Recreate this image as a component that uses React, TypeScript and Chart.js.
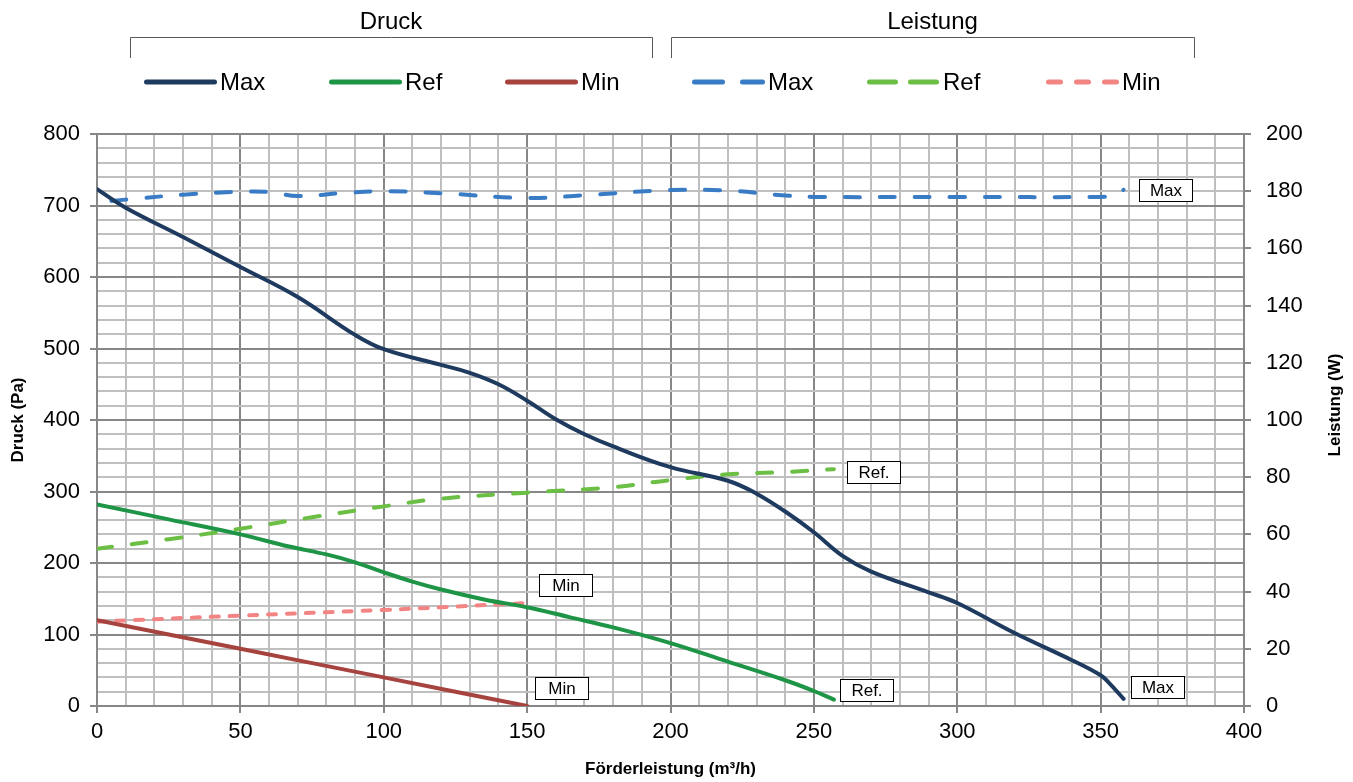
import React, { useEffect, useRef } from 'react';
import { Chart, registerables } from 'chart.js';

Chart.register(...registerables);

// ---- Data ----
// Druck (Pa) vs Förderleistung (m³/h)
const maxDruckX = [0, 10, 30, 50, 70, 90, 100, 120, 130, 140, 150, 160, 170, 180, 200, 220, 230, 240, 250, 260, 270, 290, 300, 320, 340, 350, 353, 358];
const maxDruckY = [723, 697, 656, 614, 572, 519, 499, 477, 466, 450, 427, 401, 380, 363, 334, 315, 297, 272, 243, 210, 188, 159, 144, 102, 64, 43, 32, 10];

const refDruckX = [0, 25, 50, 67, 80, 90, 100, 110, 120, 135, 150, 165, 180, 200, 220, 240, 250, 257];
const refDruckY = [282, 261, 240, 223, 212, 201, 187, 174, 163, 149, 138, 124, 110, 88, 62, 36, 21, 9];

const minDruckX = [0, 50, 100, 150];
const minDruckY = [120, 80, 40, 0];

// Leistung (W) vs Förderleistung (m³/h)
const maxLeistX = [5, 15, 30, 50, 60, 70, 85, 100, 120, 150, 170, 200, 220, 240, 250, 300, 350, 354, 358];
const maxLeistY = [176.6, 177.5, 178.8, 179.8, 179.7, 178.3, 179.3, 180, 179.3, 177.6, 178.6, 180.4, 180.2, 178.5, 178, 178, 178, 178.5, 180.5];

const refLeistX = [0, 25, 50, 75, 100, 120, 150, 180, 200, 220, 240, 257];
const refLeistY = [55, 58.3, 62, 66, 69.8, 72.5, 74.6, 76.5, 79, 81, 81.8, 82.8];

const minLeistX = [0, 50, 100, 150];
const minLeistY = [29.5, 31.6, 33.6, 36];

// Axis ranges / ticks
const xMin = 0, xMax = 400, xStep = 10, xLabelStep = 50;
const yMin = 0, yMax = 800, yStep = 20, yLabelStep = 100;
const y1Min = 0, y1Max = 200, y1Step = 20;

// Texts
const groupTitles = ['Druck', 'Leistung'];
const seriesNames = ['Max', 'Ref', 'Min'];
const endLabels = ['Max', 'Ref.', 'Min', 'Max', 'Ref.', 'Min'];
const xTitle = 'Förderleistung (m³/h)';
const yTitle = 'Druck (Pa)';
const y1Title = 'Leistung (W)';

// ---- Styles ----
const FONT = '"Liberation Sans", Arial, sans-serif';
const MAJOR = '#878787';
const MINOR = '#bfbfbf';
const C_MAX = '#1f3a5f';
const C_REF = '#1e9546';
const C_MIN = '#a6433f';
const C_MAX_L = '#3a7bc6';
const C_REF_L = '#6cbf45';
const C_MIN_L = '#f28584';

const pts = (xs: number[], ys: number[]) => xs.map((x, i) => ({ x, y: ys[i] }));

export default function App() {
  const ref = useRef<HTMLCanvasElement>(null);

  useEffect(() => {
    if (!ref.current) return;

    // label placement relative to the end point of each series (px offsets)
    const labelOffsets = [
      { ds: 0, dx: 7, dy: -12 },
      { ds: 1, dx: 6, dy: -10 },
      { ds: 2, dx: 8, dy: -18 },
      { ds: 3, dx: 15, dy: 0 },
      { ds: 4, dx: 13, dy: 3 },
      { ds: 5, dx: 12, dy: -18 },
    ];

    const extras = {
      id: 'extras',
      afterDatasetsDraw(chart: any) {
        const ctx = chart.ctx as CanvasRenderingContext2D;
        ctx.save();
        ctx.font = `17px ${FONT}`;
        ctx.textAlign = 'center';
        ctx.textBaseline = 'middle';
        labelOffsets.forEach((o, i) => {
          const meta = chart.getDatasetMeta(o.ds);
          const last = meta.data[meta.data.length - 1];
          const bw = 53, bh = 22;
          const left = Math.round(last.x + o.dx) + 0.5;
          const top = Math.round(last.y + o.dy - bh / 2) + 0.5;
          ctx.fillStyle = '#fff';
          ctx.fillRect(left, top, bw, bh);
          ctx.strokeStyle = '#000';
          ctx.lineWidth = 1;
          ctx.strokeRect(left, top, bw, bh);
          ctx.fillStyle = '#000';
          ctx.fillText(endLabels[i], left + bw / 2, top + bh / 2 + 1);
        });
        ctx.restore();
      },
      afterDraw(chart: any) {
        const ctx = chart.ctx as CanvasRenderingContext2D;
        ctx.save();
        // Group headers with brackets
        const groups = [
          { title: groupTitles[0], x0: 130, x1: 652 },
          { title: groupTitles[1], x0: 671, x1: 1194 },
        ];
        ctx.strokeStyle = '#595959';
        ctx.lineWidth = 1;
        ctx.fillStyle = '#000';
        ctx.font = `24px ${FONT}`;
        ctx.textAlign = 'center';
        ctx.textBaseline = 'middle';
        groups.forEach(g => {
          ctx.beginPath();
          ctx.moveTo(g.x0 + 0.5, 58);
          ctx.lineTo(g.x0 + 0.5, 37.5);
          ctx.lineTo(g.x1 + 0.5, 37.5);
          ctx.lineTo(g.x1 + 0.5, 58);
          ctx.stroke();
          ctx.fillText(g.title, (g.x0 + g.x1) / 2, 22);
        });

        // Legend entries
        const entries = [
          { x: 144, color: C_MAX, dash: [] as number[], text: seriesNames[0] },
          { x: 329, color: C_REF, dash: [], text: seriesNames[1] },
          { x: 505, color: C_MIN, dash: [], text: seriesNames[2] },
          { x: 692, color: C_MAX_L, dash: [28, 20], text: seriesNames[0] },
          { x: 867, color: C_REF_L, dash: [26, 15], text: seriesNames[1] },
          { x: 1046, color: C_MIN_L, dash: [12, 16], text: seriesNames[2] },
        ];
        const ly = 82;
        entries.forEach(e => {
          ctx.beginPath();
          ctx.setLineDash(e.dash);
          ctx.lineCap = 'round';
          ctx.lineWidth = 5;
          ctx.strokeStyle = e.color;
          ctx.moveTo(e.x + 2.5, ly);
          ctx.lineTo(e.x + 70.5, ly);
          ctx.stroke();
          ctx.setLineDash([]);
          ctx.fillStyle = '#000';
          ctx.textAlign = 'left';
          ctx.fillText(e.text, e.x + 76, ly + 1);
        });

        // Right axis title, reading bottom-to-top
        ctx.font = `bold 17px ${FONT}`;
        ctx.textAlign = 'center';
        ctx.textBaseline = 'middle';
        ctx.fillStyle = '#000';
        ctx.translate(1335, 405);
        ctx.rotate(-Math.PI / 2);
        ctx.fillText(y1Title, 0, 0);
        ctx.restore();
      },
    };

    const line = (data: any[], color: string, axis: string, dash: number[] = []) => ({
      data,
      yAxisID: axis,
      borderColor: color,
      backgroundColor: color,
      borderWidth: 4,
      borderDash: dash,
      borderCapStyle: 'round',
      borderJoinStyle: 'round',
      pointRadius: 0,
      pointHoverRadius: 0,
      fill: false,
      tension: 0.4,
    });

    const isMul = (v: number, m: number) => Math.abs(v / m - Math.round(v / m)) < 1e-6;

    const chart = new Chart(ref.current, {
      type: 'line',
      data: {
        datasets: [
          line(pts(maxDruckX, maxDruckY), C_MAX, 'y'),
          line(pts(refDruckX, refDruckY), C_REF, 'y'),
          line(pts(minDruckX, minDruckY), C_MIN, 'y'),
          line(pts(maxLeistX, maxLeistY), C_MAX_L, 'y1', [15, 20]),
          line(pts(refLeistX, refLeistY), C_REF_L, 'y1', [15, 20]),
          line(pts(minLeistX, minLeistY), C_MIN_L, 'y1', [8, 11]),
        ] as any,
      },
      options: {
        animation: false,
        responsive: false,
        devicePixelRatio: 1,
        layout: { padding: { top: 134, left: 0, right: 0, bottom: 0 } },
        plugins: {
          legend: { display: false },
          tooltip: { enabled: false },
        },
        scales: {
          x: {
            type: 'linear',
            min: xMin,
            max: xMax,
            afterFit: (s: any) => { s.height = 76; },
            ticks: {
              stepSize: xStep,
              autoSkip: false,
              maxRotation: 0,
              padding: 6,
              color: '#000',
              font: { family: FONT, size: 22 },
              callback: (v: any) => (isMul(v, xLabelStep) ? String(v) : ''),
            },
            grid: {
              color: (c: any) => (isMul(c.tick.value, xLabelStep) ? MAJOR : MINOR),
              tickColor: (c: any) => (isMul(c.tick.value, xLabelStep) ? MAJOR : 'rgba(0,0,0,0)'),
              lineWidth: 2,
              tickLength: 7,
            },
            border: { color: MAJOR, width: 2 },
            title: {
              display: true,
              text: xTitle,
              color: '#000',
              font: { family: FONT, size: 17, weight: 'bold' },
              padding: { top: 0, bottom: 2 },
            },
          },
          y: {
            type: 'linear',
            position: 'left',
            min: yMin,
            max: yMax,
            afterFit: (s: any) => { s.width = 97; },
            ticks: {
              stepSize: yStep,
              autoSkip: false,
              padding: 10,
              color: '#000',
              font: { family: FONT, size: 22 },
              callback: (v: any) => (isMul(v, yLabelStep) ? String(v) : ''),
            },
            grid: {
              color: (c: any) => (isMul(c.tick.value, yLabelStep) ? MAJOR : MINOR),
              tickColor: (c: any) => (isMul(c.tick.value, yLabelStep) ? MAJOR : 'rgba(0,0,0,0)'),
              lineWidth: 2,
              tickLength: 7,
            },
            border: { color: MAJOR, width: 2 },
            title: {
              display: true,
              text: yTitle,
              color: '#000',
              font: { family: FONT, size: 17, weight: 'bold' },
              padding: { top: 8, bottom: 0 },
            },
          },
          y1: {
            type: 'linear',
            position: 'right',
            min: y1Min,
            max: y1Max,
            afterFit: (s: any) => { s.width = 109; },
            ticks: {
              stepSize: y1Step,
              autoSkip: false,
              padding: 15,
              color: '#000',
              font: { family: FONT, size: 22 },
            },
            grid: {
              drawOnChartArea: false,
              color: MAJOR,
              tickColor: MAJOR,
              lineWidth: 2,
              tickLength: 7,
            },
            border: { color: MAJOR, width: 2 },
            title: { display: false },
          },
        },
      } as any,
      plugins: [extras],
    });

    return () => chart.destroy();
  }, []);

  return (
    <div style={{ position: 'absolute', left: 0, top: 0, width: 1353, height: 782, background: '#fff' }}>
      <canvas ref={ref} width={1353} height={782} style={{ display: 'block', width: 1353, height: 782 }} />
    </div>
  );
}
